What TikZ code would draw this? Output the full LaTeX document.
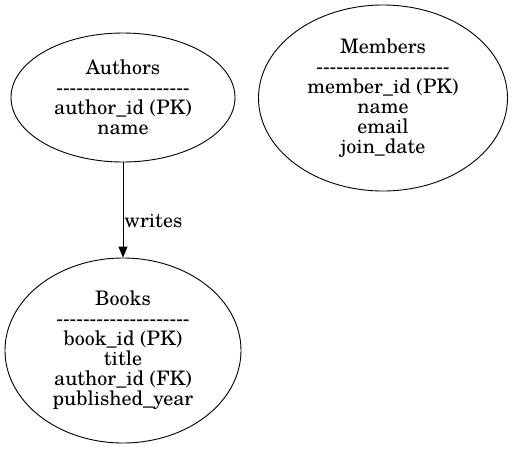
\documentclass[tikz,border=0pt]{standalone}
\usepackage{fontspec}
\setmainfont{texgyreschola}[Extension=.otf,UprightFont=*-regular,Ligatures=TeXOff]
\usetikzlibrary{shapes.geometric,arrows.meta}

\begin{document}
\begin{tikzpicture}[x=1pt,y=-1pt,line width=0.9pt,
  font=\fontsize{20}{20}\selectfont,
  table/.style={draw,ellipse,inner sep=0pt,align=center}]
  \useasboundingbox (0,0) rectangle (512,448);
  \node[table,minimum width=224pt,minimum height=129pt] (authors) at (123,97.5)
    {Authors\\--------------------\\author\_id (PK)\\name};
  \node[table,minimum width=249pt,minimum height=186pt] (members) at (383,98)
    {Members\\--------------------\\member\_id (PK)\\name\\email\\join\_date};
  \node[table,minimum width=236pt,minimum height=185pt] (books) at (123,350.5)
    {Books\\--------------------\\book\_id (PK)\\title\\author\_id (FK)\\published\_year};

  \draw[-{Triangle[length=11pt,width=9pt]}] (authors) -- node[pos=0.62,right,inner sep=1pt] {writes} (books);
\end{tikzpicture}
\end{document}
